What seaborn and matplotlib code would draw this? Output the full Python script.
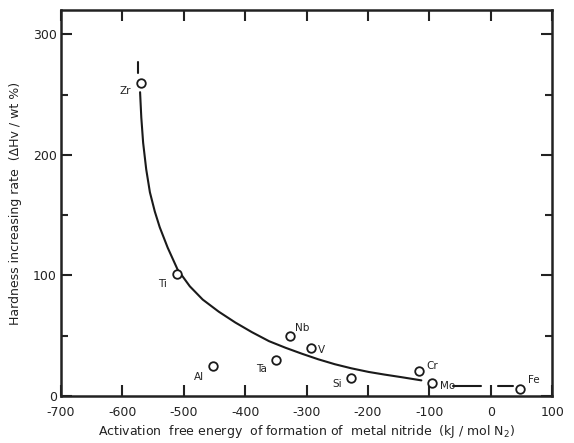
import matplotlib
matplotlib.use("Agg")
import matplotlib.pyplot as plt
import seaborn as sns
import pandas as pd
from matplotlib.ticker import MultipleLocator

sns.set_theme(style="ticks")
plt.rcParams['font.family'] = ['DejaVu Sans']

# Data
elements = ["Zr", "Ti", "Nb", "V", "Ta", "Al", "Si", "Cr", "Mo", "Fe"]
free_energy = [-570, -511, -327, -293, -350, -453, -228, -117, -95, 47]
hardness_rate = [260, 101, 50, 40, 30, 25, 15, 21, 11, 6]
# label offsets (pixels) relative to each point
label_dx = [-15, -14, 12, 11, -14, -14, -14, 13, 15, 14]
label_dy = [-8, -10, 8, -2, -9, -11, -6, 5, -3, 9]

# trend curve
curve_x = [-571, -569, -566, -561, -555, -547, -539, -526, -510, -490, -469, -443,
           -416, -389, -361, -334, -307, -281, -254, -227, -199, -173, -146, -113]
curve_y = [252, 231, 210, 188, 169, 153, 140, 123, 105, 91, 80, 70,
           61, 53, 45.5, 40, 35, 30.5, 26.4, 23, 20, 17.8, 15.7, 13]
# flat segments between Mo and Fe
flat1_x = [-61, -16]
flat2_x = [11, 37]
flat_y = [8, 8]
# small mark above Zr
zr_mark_x = [-574, -574]
zr_mark_y = [268, 277]

fig = plt.figure(figsize=(5.74, 4.43), dpi=100)
ax = fig.add_axes([0.106, 0.106, 0.856, 0.871])

df = pd.DataFrame({"x": free_energy, "y": hardness_rate, "el": elements})
curve = pd.DataFrame({"x": curve_x, "y": curve_y})

sns.lineplot(data=curve, x="x", y="y", ax=ax, color="#1a1a1a", lw=1.5, sort=False)
ax.plot(flat1_x, flat_y, color="#1a1a1a", lw=1.5)
ax.plot(flat2_x, flat_y, color="#1a1a1a", lw=1.5)
ax.plot(zr_mark_x, zr_mark_y, color="#1a1a1a", lw=1.5)

sns.scatterplot(data=df, x="x", y="y", ax=ax, marker="o", s=38,
                facecolor="white", edgecolor="#1a1a1a", linewidth=1.3, zorder=5)

for el, x, y, dx, dy in zip(elements, free_energy, hardness_rate, label_dx, label_dy):
    ax.annotate(el, (x, y), xytext=(dx * 0.72, dy * 0.72), textcoords="offset points",
                ha="center", va="center", fontsize=7.5, color="#222222")

ax.set_xlim(-694, 100)
ax.set_ylim(0, 320)
ax.set_xticks([-700, -600, -500, -400, -300, -200, -100, 0, 100])
ax.set_xticklabels(["-700", "-600", "-500", "-400", "-300", "-200", "-100", "0", "100"])
ax.set_yticks([0, 100, 200, 300])
ax.yaxis.set_minor_locator(MultipleLocator(50))

for s in ax.spines.values():
    s.set_visible(True)
    s.set_linewidth(1.8)
    s.set_color("#222222")

ax.tick_params(axis="both", which="major", direction="in", length=8, width=1.5,
               top=True, right=True, labelsize=9, colors="#222222")
ax.tick_params(axis="x", which="major", pad=7)
ax.tick_params(axis="y", which="major", pad=3)
ax.tick_params(axis="y", which="minor", direction="in", length=5, width=1.5,
               right=True, left=True)

ax.set_xlabel("Activation  free energy  of formation of  metal nitride  (kJ / mol N$_2$)",
              fontsize=9, color="#222222", labelpad=3)
ax.set_ylabel("Hardness increasing rate  (ΔHv / wt %)", fontsize=9, color="#222222", labelpad=8)

fig.savefig("out.png", dpi=100)
